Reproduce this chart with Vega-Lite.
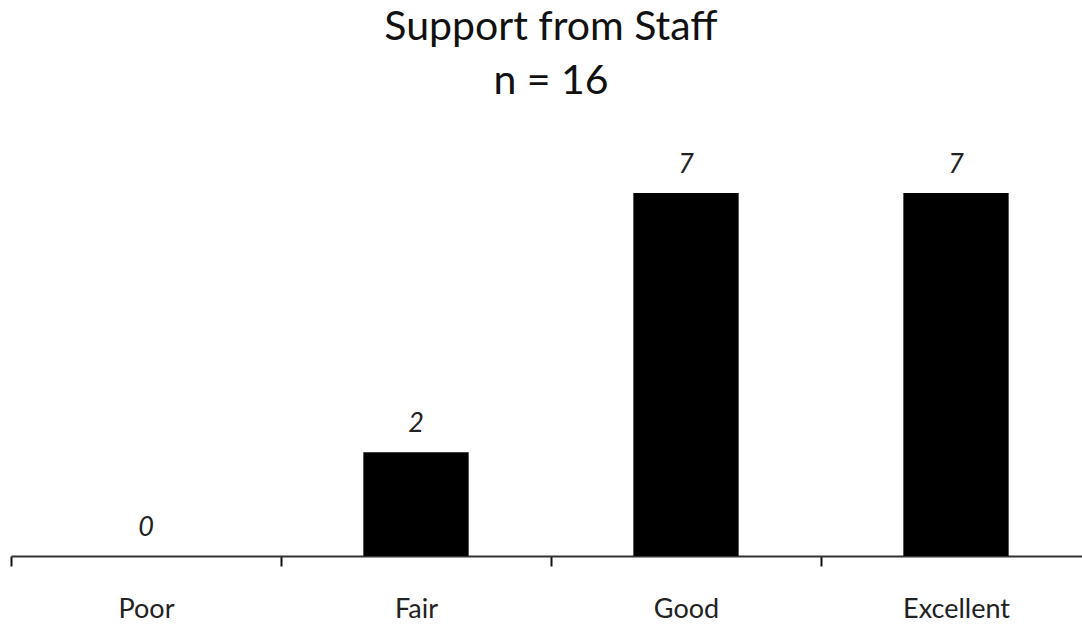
{
  "$schema": "https://vega.github.io/schema/vega-lite/v6.json",
  "width": 1080,
  "height": 415,
  "autosize": {"type": "none"},
  "padding": {"left": 11, "top": 141, "right": 0, "bottom": 68},
  "background": "white",
  "title": {
    "text": ["Support from Staff", "n = 16"],
    "font": "Lato",
    "fontSize": 41,
    "fontWeight": "normal",
    "lineHeight": 54,
    "color": "#111",
    "anchor": "middle",
    "offset": 38
  },
  "data": {
    "values": [
      {"rating": "Poor", "count": 0},
      {"rating": "Fair", "count": 2},
      {"rating": "Good", "count": 7},
      {"rating": "Excellent", "count": 7}
    ]
  },
  "encoding": {
    "x": {
      "field": "rating",
      "type": "nominal",
      "sort": null,
      "scale": {"paddingInner": 0, "paddingOuter": 0},
      "axis": {
        "title": null,
        "tickBand": "extent",
        "labelAngle": 0,
        "labelFont": "Lato",
        "labelFontSize": 27,
        "labelColor": "#222",
        "labelPadding": 30,
        "tickSize": 10,
        "tickWidth": 2,
        "tickColor": "#111",
        "domainColor": "#333",
        "domainWidth": 2,
        "grid": false
      }
    },
    "y": {
      "field": "count",
      "type": "quantitative",
      "scale": {"domain": [0, 8], "nice": false},
      "axis": null
    }
  },
  "layer": [
    {
      "mark": {"type": "bar", "color": "black", "width": {"band": 0.39}}
    },
    {
      "mark": {
        "type": "text",
        "font": "Lato",
        "fontSize": 27,
        "fontStyle": "italic",
        "color": "#222",
        "baseline": "alphabetic",
        "dy": -20
      },
      "encoding": {"text": {"field": "count", "type": "quantitative"}}
    }
  ],
  "config": {"view": {"stroke": null}}
}
